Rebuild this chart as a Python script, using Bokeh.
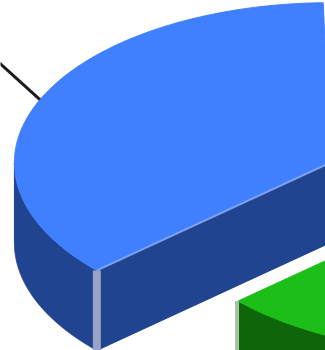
import numpy as np
from bokeh.embed import file_html
from bokeh.models import Range1d
from bokeh.plotting import figure
from bokeh.resources import INLINE

# Exploded two-slice 3D pie, cropped close to the blue slice
slice_names = ["Blue", "Green"]
slice_values = [36.4, 63.6]
top_colors = ["#4080ff", "#1cbf18"]
wall_colors = ["#204490", "#0f660a"]
edge_colors = ["#98a3c8", "#a8bfa8"]

# Projection of the pie disc onto the page
CENTER_X, CENTER_Y = 400.5, 177.5
RADIUS_X, RADIUS_Y = 316.0, 160.0
DEPTH = 80.0
EXPLODE = 0.243
START_ANGLE = 91.3

p = figure(width=325, height=350, x_range=Range1d(0, 325), y_range=Range1d(350, 0),
           x_axis_type=None, y_axis_type=None, toolbar_location=None,
           output_backend="svg", min_border=0, outline_line_color=None,
           background_fill_color="white", border_fill_color="white")
p.grid.visible = False


def arc(cx, cy, a0, a1, n=240):
    t = np.radians(np.linspace(a0, a1, n))
    return cx + RADIUS_X * np.cos(t), cy - RADIUS_Y * np.sin(t)


total = sum(slice_values)
angle = START_ANGLE
slices = []
for v in slice_values:
    sweep = 360.0 * v / total
    mid = np.radians(angle + sweep / 2)
    cx = CENTER_X + EXPLODE * RADIUS_X * np.cos(mid)
    cy = CENTER_Y - EXPLODE * RADIUS_Y * np.sin(mid)
    slices.append((cx, cy, angle, angle + sweep))
    angle += sweep

# Side walls first, so that the top faces cover their upper rims
for (cx, cy, a0, a1), wall in zip(slices, wall_colors):
    lo, hi = max(a0, 180.0), min(a1, 360.0)
    x, y = arc(cx, cy, lo, hi)
    p.patch(np.r_[x, x[::-1]], np.r_[y + DEPTH, y[::-1]], fill_color=wall, line_color=wall)
    if 180.0 < a1 < 270.0:
        ex, ey = arc(cx, cy, a1, a1, 1)
        p.patch([ex[0], cx, cx, ex[0]], [ey[0], cy, cy + DEPTH, ey[0] + DEPTH],
                fill_color=wall, line_color=wall)

# Top faces
for (cx, cy, a0, a1), top in zip(slices, top_colors):
    x, y = arc(cx, cy, a0, a1)
    p.patch(np.r_[cx, x], np.r_[cy, y], fill_color=top, line_color=top)

# Light rim along the cut of the blue slice
cx, cy, a0, a1 = slices[0]
ex, ey = arc(cx, cy, a1, a1, 1)
p.line([ex[0], cx], [ey[0], cy], line_color="#7fa0ec", line_width=2)

# Pale vertical seams where a wall meets the cut
p.quad(left=[ex[0] - 4], right=[ex[0] + 4], top=[ey[0]], bottom=[ey[0] + DEPTH],
       fill_color=edge_colors[0], line_color=None)
cx2, cy2, b0, b1 = slices[1]
gx, gy = arc(cx2, cy2, b0, b0, 1)
p.quad(left=[gx[0] - 3], right=[gx[0] + 1], top=[gy[0]], bottom=[gy[0] + DEPTH],
       fill_color=edge_colors[1], line_color=None)

# Leader line leaving the blue slice at its middle angle
lx, ly = arc(cx, cy, (a0 + a1) / 2, (a0 + a1) / 2, 1)
p.line([lx[0], lx[0] - 55], [ly[0], ly[0] - 50], line_color="#1c1c1c", line_width=3)

open("out.html", "w").write(file_html(p, INLINE))
